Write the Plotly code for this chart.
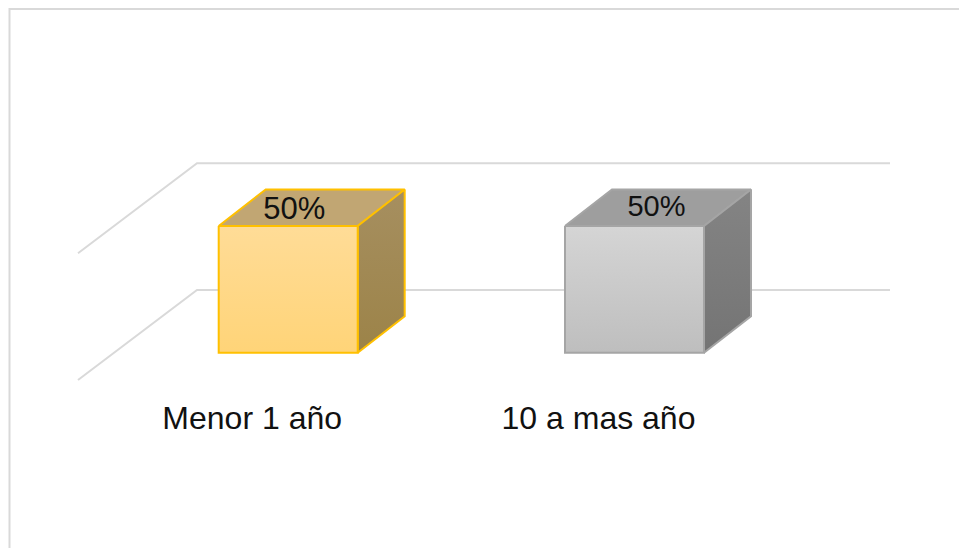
import plotly.graph_objects as go

# --- data ---
categories = ["Menor 1 año", "10 a mas año"]
values = [50, 50]
value_labels = ["50%", "50%"]
grid_values = [0, 50]

# --- colours ---
outline = ["#FFC000", "#A5A5A5"]
front_top = ["#FFDC97", "#D5D5D5"]
front_bottom = ["#FFD478", "#BEBEBE"]
top_face = ["#C1A673", "#9E9E9E"]
side_top = ["#A68F60", "#848484"]
side_bottom = ["#9C8348", "#747474"]
GRID = "#D9D9D9"

# --- pixel geometry of the pseudo 3D projection ---
W, H = 959, 548
CAT0_PX, CAT_STEP_PX = 288.2, 346.3
BACK_ZERO_PX, UNIT_PX = 290.0, 126.8 / 50

def ux(px):
    return px / CAT_STEP_PX

def uy(px):
    return px / UNIT_PX

x_range = [ux(-CAT0_PX), ux(W - CAT0_PX)]
y_range = [uy(BACK_ZERO_PX - H), uy(BACK_ZERO_PX)]

HALF_W = ux(69.5)
BAR_DX, BAR_DY = ux(47), uy(36.5)
FRONT_DROP = uy(62.8)          # bar front base below the back-wall zero line
WALL_LEFT, WALL_RIGHT = ux(197 - CAT0_PX), ux(890 - CAT0_PX)
FLOOR_DX, FLOOR_DY = ux(119), uy(90)
LABEL_DX = ux(-36)
VALUE_LABEL_DX = [ux(6), ux(22)]
VALUE_LABEL_DY = [uy(14.8), uy(17.3)]
VALUE_LABEL_SIZE = [31, 29]

fig = go.Figure()

for g in grid_values:
    fig.add_trace(go.Scatter(
        x=[WALL_LEFT - FLOOR_DX, WALL_LEFT, WALL_RIGHT],
        y=[g - FLOOR_DY, g, g],
        mode="lines", line=dict(color=GRID, width=2),
        hoverinfo="skip", showlegend=False))

def face(xs, ys, line, fill=None, grad=None):
    kw = dict(fillcolor=fill) if fill else dict(
        fillgradient=dict(type="vertical",
                          colorscale=[[0, grad[1]], [1, grad[0]]]))
    fig.add_trace(go.Scatter(
        x=xs + xs[:1], y=ys + ys[:1], mode="lines", fill="toself",
        line=dict(color=line, width=2), hoverinfo="skip",
        showlegend=False, **kw))

for i, v in enumerate(values):
    l, r = i - HALF_W, i + HALF_W
    b, t = -FRONT_DROP, v - FRONT_DROP
    face([l, l + BAR_DX, r + BAR_DX, r], [t, t + BAR_DY, t + BAR_DY, t],
         outline[i], fill=top_face[i])
    face([r, r + BAR_DX, r + BAR_DX, r], [t, t + BAR_DY, b + BAR_DY, b],
         outline[i], grad=(side_top[i], side_bottom[i]))
    face([l, r, r, l], [t, t, b, b],
         outline[i], grad=(front_top[i], front_bottom[i]))

fig.add_trace(go.Scatter(
    x=[i + dx for i, dx in enumerate(VALUE_LABEL_DX)],
    y=[v - FRONT_DROP + dy for v, dy in zip(values, VALUE_LABEL_DY)],
    mode="text", text=value_labels, textposition="middle center",
    textfont=dict(family="Liberation Sans", size=VALUE_LABEL_SIZE, color="#111111"),
    hoverinfo="skip", showlegend=False))

fig.update_layout(
    width=W, height=H, margin=dict(l=0, r=0, t=0, b=0),
    autosize=False,
    paper_bgcolor="white", plot_bgcolor="white", showlegend=False,
    xaxis=dict(range=x_range, domain=[0, 1], anchor="free", position=0.277,
               showgrid=False, zeroline=False, showline=False, ticks="",
               tickmode="array",
               tickvals=[i + LABEL_DX for i in range(len(categories))],
               ticktext=categories,
               tickfont=dict(family="Liberation Sans", size=32, color="#111111")),
    yaxis=dict(range=y_range, domain=[0, 1], visible=False),
    shapes=[dict(type="path", xref="paper", yref="paper",
                 path="M 0.0099,0 L 0.0099,0.9835 L 1,0.9835",
                 line=dict(color=GRID, width=2))],
)

fig.write_html("out.html", config={"displayModeBar": False},
               post_script="document.body.style.margin='0';")
